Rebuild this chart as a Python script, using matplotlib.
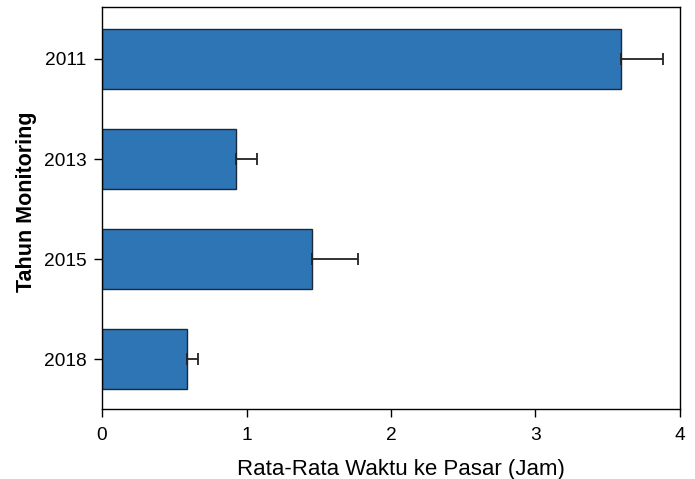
import matplotlib
matplotlib.use("Agg")
import matplotlib.pyplot as plt

plt.rcParams['font.family'] = ['Liberation Sans', 'DejaVu Sans']

years = ["2011", "2013", "2015", "2018"]
means = [3.59, 0.925, 1.455, 0.587]
errors = [0.29, 0.145, 0.315, 0.08]

fig = plt.figure(figsize=(6.95, 4.79), dpi=100)
ax = fig.add_axes([0.1468, 0.1461, 0.8316, 0.8393])

pos = list(range(len(years)))
ax.barh(pos, means, height=0.6, color='#2E75B6', edgecolor='#1a2a3a', linewidth=1.0,
        xerr=[[0]*len(errors), errors], error_kw=dict(ecolor='#222222', elinewidth=1.3, capsize=4.3, capthick=1.3))

ax.set_yticks(pos)
ax.set_yticklabels(years)
ax.set_ylim(3.5, -0.52)
ax.set_xlim(0, 4)
ax.set_xticks([0, 1, 2, 3, 4])
ax.tick_params(axis='both', direction='out', length=6, width=1, labelsize=13.8)
ax.tick_params(axis='x', pad=7)
ax.tick_params(axis='y', pad=5)
for s in ax.spines.values():
    s.set_linewidth(1.0)
ax.set_xlabel("Rata-Rata Waktu ke Pasar (Jam)", fontsize=16)
ax.set_ylabel("Tahun Monitoring", fontsize=15.5, fontweight='bold')
ax.xaxis.set_label_coords(0.518, -0.125)
ax.yaxis.set_label_coords(-0.112, 0.515)

fig.savefig("out.png", dpi=100)
